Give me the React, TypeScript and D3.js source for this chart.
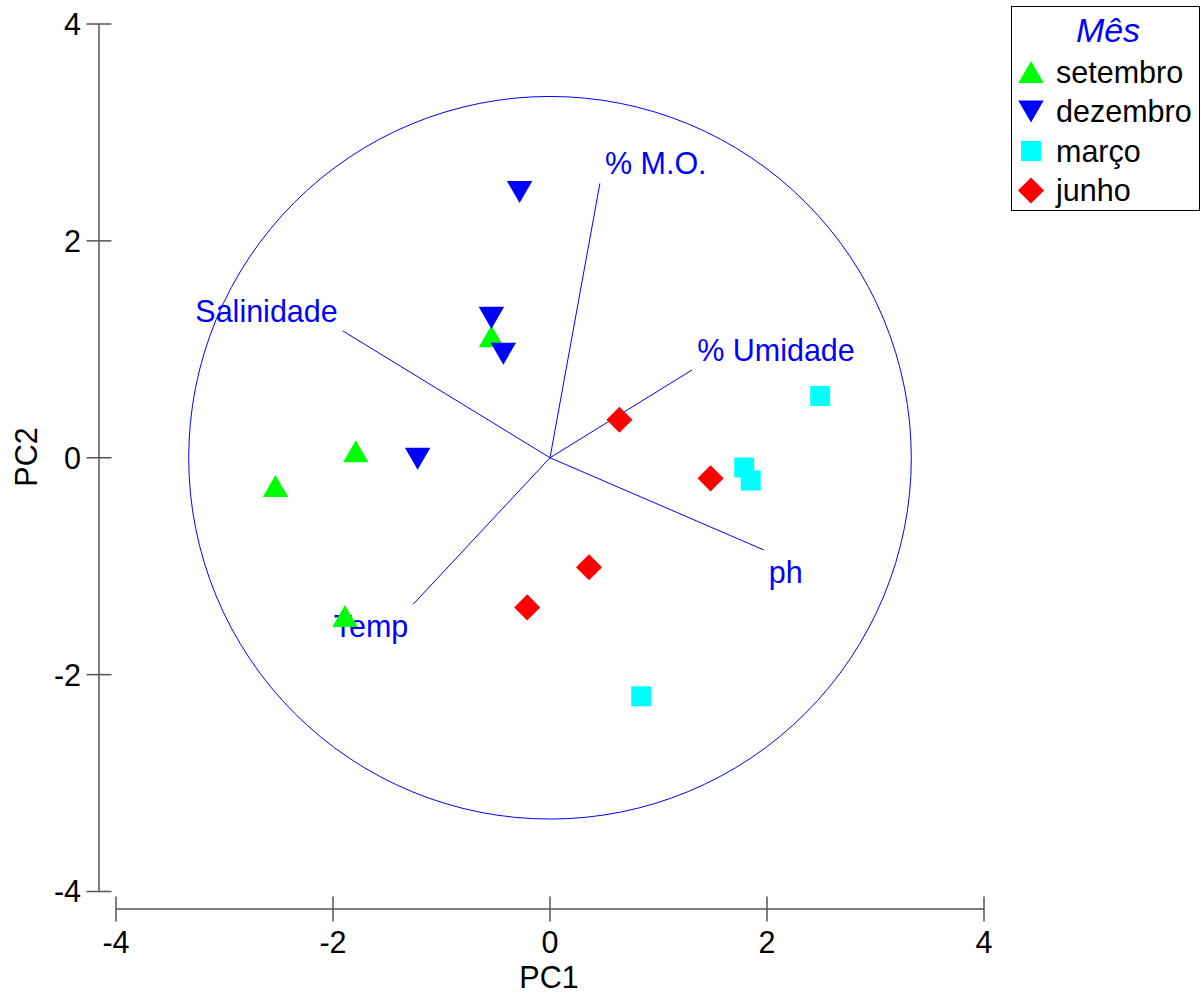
import React from "react";
import * as d3 from "d3";

const groups = ["setembro", "dezembro", "março", "junho"];
const groupColors = ["#00ff00", "#0000ff", "#00ffff", "#ff0000"];
const groupShapes = ["triUp", "triDown", "square", "diamond"];

const setembroPts: [number, number][] = [[-2.53, -0.26], [-1.79, 0.06], [-0.54, 1.12], [-1.89, -1.46]];
const dezembroPts: [number, number][] = [[-0.28, 2.45], [-0.54, 1.29], [-0.43, 0.96], [-1.22, -0.01]];
const marcoPts: [number, number][] = [[2.49, 0.57], [1.79, -0.09], [1.85, -0.21], [0.84, -2.2]];
const junhoPts: [number, number][] = [[0.64, 0.35], [1.48, -0.19], [0.36, -1.01], [-0.21, -1.38]];
const groupPts = [setembroPts, dezembroPts, marcoPts, junhoPts];

const vectorNames = ["% M.O.", "Salinidade", "% Umidade", "ph", "Temp"];
const vectorX = [0.46, -1.91, 1.31, 1.97, -1.26];
const vectorY = [2.53, 1.17, 0.81, -0.85, -1.35];
const circleRadius = 3.33;

const xTicks = [-4, -2, 0, 2, 4];
const yTicks = [-4, -2, 0, 2, 4];

const FONT = "Arial, 'Liberation Sans', sans-serif";
const FS = 30.5;

const TRI_SIZE = 280;
const triSide = Math.sqrt((TRI_SIZE * 4) / Math.sqrt(3));
const triH = (triSide * Math.sqrt(3)) / 2;
const triShift = triH / 2 - triH / 3; // move centroid-centred triangle to bbox centre

function symbolPath(shape: string) {
  if (shape === "triUp" || shape === "triDown") return d3.symbol(d3.symbolTriangle, TRI_SIZE)()!;
  if (shape === "square") return d3.symbol(d3.symbolSquare, 400)()!;
  return d3.symbol(d3.symbolSquare, 340)()!;
}
function symbolTransform(shape: string, x: number, y: number) {
  if (shape === "triUp") return `translate(${x},${y + triShift})`;
  if (shape === "triDown") return `translate(${x},${y - triShift}) rotate(180)`;
  if (shape === "diamond") return `translate(${x},${y}) rotate(45)`;
  return `translate(${x},${y})`;
}

export default function App() {
  const x = d3.scaleLinear().domain([-4, 4]).range([116, 984]);
  const y = d3.scaleLinear().domain([-4, 4]).range([891.5, 24]);
  const axisColor = "#555";
  const yAxisX = 99;
  const xAxisY = 909;
  const r = x(circleRadius) - x(0);

  return (
    <svg width={1201} height={993} style={{ position: "absolute", left: 0, top: 0, background: "#fff" }}>
      {/* Y axis */}
      <line x1={yAxisX} x2={yAxisX} y1={y(4)} y2={y(-4)} stroke={axisColor} strokeWidth={1.5} />
      {yTicks.map((t) => (
        <g key={"yt" + t}>
          <line x1={yAxisX - 12.5} x2={yAxisX + 12.5} y1={y(t)} y2={y(t)} stroke={axisColor} strokeWidth={1.5} />
          <text x={81} y={y(t)} dy="0.36em" textAnchor="end" fontFamily={FONT} fontSize={FS} fill="#000">{t}</text>
        </g>
      ))}
      {/* X axis */}
      <line x1={x(-4)} x2={x(4)} y1={xAxisY} y2={xAxisY} stroke={axisColor} strokeWidth={1.5} />
      {xTicks.map((t) => (
        <g key={"xt" + t}>
          <line x1={x(t)} x2={x(t)} y1={xAxisY - 12.5} y2={xAxisY + 12.5} stroke={axisColor} strokeWidth={1.5} />
          <text x={x(t)} y={953} textAnchor="middle" fontFamily={FONT} fontSize={FS} fill="#000">{t}</text>
        </g>
      ))}
      <text x={549} y={988} textAnchor="middle" fontFamily={FONT} fontSize={FS} fill="#000">PC1</text>
      <text transform={`translate(37,457) rotate(-90)`} textAnchor="middle" fontFamily={FONT} fontSize={FS} fill="#000">PC2</text>

      {/* circle */}
      <circle cx={x(0)} cy={y(0)} r={r} fill="none" stroke="#0000ff" strokeWidth={1} />

      {/* vectors */}
      {vectorNames.map((n, i) => {
        const ex = x(vectorX[i]);
        const ey = y(vectorY[i]);
        const right = vectorX[i] >= 0;
        const up = vectorY[i] >= 0;
        return (
          <g key={n}>
            <line x1={x(0)} y1={y(0)} x2={ex} y2={ey} stroke="#0000ff" strokeWidth={1} />
            <text
              x={right ? ex + 5 : ex - 5}
              y={up ? ey - 20 : ey + 22}
              dy="0.36em"
              textAnchor={right ? "start" : "end"}
              fontFamily={FONT}
              fontSize={FS}
              fill="#0000ff"
            >{n}</text>
          </g>
        );
      })}

      {/* points */}
      {groups.map((g, gi) =>
        groupPts[gi].map((p, pi) => (
          <path key={g + pi} d={symbolPath(groupShapes[gi])} transform={symbolTransform(groupShapes[gi], x(p[0]), y(p[1]))} fill={groupColors[gi]} />
        ))
      )}

      {/* legend */}
      <rect x={1011.5} y={6.5} width={188} height={204} fill="#fff" stroke="#000" strokeWidth={1} />
      <text x={1108} y={30} dy="0.36em" textAnchor="middle" fontFamily={FONT} fontSize={34} fontStyle="italic" fill="#0000ff">Mês</text>
      {groups.map((g, gi) => {
        const ly = 72 + gi * 39.5;
        return (
          <g key={"lg" + g}>
            <path d={symbolPath(groupShapes[gi])} transform={symbolTransform(groupShapes[gi], 1031, ly)} fill={groupColors[gi]} />
            <text x={1056} y={ly} dy="0.36em" fontFamily={FONT} fontSize={FS} fill="#000">{g}</text>
          </g>
        );
      })}
    </svg>
  );
}
